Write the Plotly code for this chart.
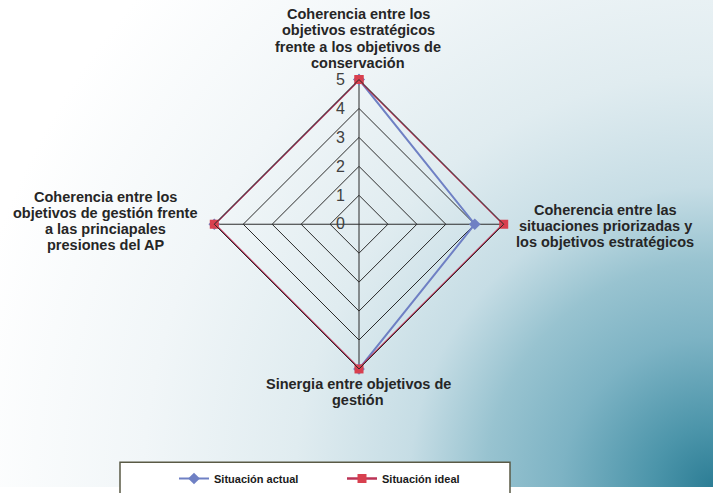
import base64
import plotly.graph_objects as go

categories = [
    "Coherencia entre los objetivos estratégicos frente a los objetivos de conservación",
    "Coherencia entre las situaciones priorizadas y los objetivos estratégicos",
    "Sinergia entre objetivos de gestión",
    "Coherencia entre los objetivos de gestión frente a las princiapales presiones del AP",
]
# wrapped lines of each category label, as printed around the chart
category_lines = [
    ["Coherencia entre los", "objetivos estratégicos", "frente a los objetivos de", "conservación"],
    ["Coherencia entre las", "situaciones priorizadas y", "los objetivos estratégicos"],
    ["Sinergia entre objetivos de", "gestión"],
    ["Coherencia entre los", "objetivos de gestión frente", "a las princiapales", "presiones del AP"],
]
actual = [5, 4, 5, 5]
ideal = [5, 5, 5, 5]
radial_ticks = [0, 1, 2, 3, 4, 5]

W, H = 713, 493


def px(x):
    return x / W


def py(y):
    return 1 - y / H


# soft teal gradient behind the chart, darkest in the bottom-right corner
bg_svg = f"""<svg xmlns='http://www.w3.org/2000/svg' width='{W}' height='{H}'>
<defs><radialGradient id='g' gradientUnits='userSpaceOnUse' cx='{W}' cy='{H}' r='760'>
<stop offset='0' stop-color='#2c7d95'/>
<stop offset='0.08' stop-color='#4c95aa'/>
<stop offset='0.2' stop-color='#7db3c4'/>
<stop offset='0.3' stop-color='#98c3d0'/>
<stop offset='0.4' stop-color='#c6dde5'/>
<stop offset='0.55' stop-color='#e0ecf0'/>
<stop offset='0.75' stop-color='#f1f6f8'/>
<stop offset='1' stop-color='#ffffff'/>
</radialGradient></defs>
<rect width='{W}' height='{H}' fill='url(#g)'/></svg>"""
bg_uri = "data:image/svg+xml;base64," + base64.b64encode(bg_svg.encode()).decode()

fig = go.Figure()

fig.add_trace(go.Scatterpolar(
    r=actual + actual[:1],
    theta=categories + categories[:1],
    mode="lines+markers",
    name="Situación actual",
    line=dict(color="#6f80c4", width=2),
    marker=dict(symbol="diamond", size=9, color="#6f80c4"),
))
fig.add_trace(go.Scatterpolar(
    r=ideal + ideal[:1],
    theta=categories + categories[:1],
    mode="lines+markers",
    name="Situación ideal",
    line=dict(color="#bb3356", width=2.5),
    marker=dict(symbol="square", size=9, color="#d8404f"),
))

# one annotation per line so the tight line spacing of the original is kept
label_font = dict(size=14.5, color="#262626",
                  family="Liberation Sans, Arial, sans-serif", weight="bold")
label_pos = [(358, 39), (605, 229), (358, 397), (105, 224)]
line_gap = 16.3
annotations = []
for lines, (x, y) in zip(category_lines, label_pos):
    n = len(lines)
    for i, t in enumerate(lines):
        ly = y + (i - (n - 1) / 2) * line_gap
        annotations.append(dict(text=t, x=px(x), y=py(ly), xref="paper", yref="paper",
                                xanchor="center", yanchor="middle",
                                showarrow=False, font=label_font))

fig.update_layout(
    width=W,
    height=H,
    margin=dict(l=0, r=0, t=0, b=0),
    paper_bgcolor="white",
    font=dict(family="Liberation Sans, Arial, sans-serif", color="#262626"),
    images=[dict(source=bg_uri, xref="paper", yref="paper", x=0, y=1,
                 sizex=1, sizey=1, xanchor="left", yanchor="top",
                 sizing="stretch", layer="below")],
    polar=dict(
        domain=dict(x=[px(212.5), px(505.5)], y=[py(373.5), py(80.5)]),
        bgcolor="rgba(0,0,0,0)",
        gridshape="linear",
        radialaxis=dict(
            range=[0, 5],
            tickvals=radial_ticks,
            angle=90,
            tickangle=90,
            side="counterclockwise",
            showline=False,
            ticks="outside",
            ticklen=8,
            tickcolor="rgba(0,0,0,0)",
            gridcolor="#2b2b2b",
            gridwidth=1,
            tickfont=dict(size=16, color="#404040",
                          family="Liberation Sans, Arial, sans-serif"),
        ),
        angularaxis=dict(
            direction="clockwise",
            rotation=90,
            showline=True,
            linecolor="#2b2b2b",
            gridcolor="#2b2b2b",
            ticks="",
            showticklabels=False,
        ),
    ),
    annotations=annotations,
    shapes=[dict(type="rect", xref="paper", yref="paper",
                 x0=px(120), x1=px(510), y0=-0.05, y1=py(468),
                 fillcolor="white", line=dict(color="#5a5a45", width=1.5),
                 layer="below")],
    legend=dict(
        orientation="h",
        x=px(174),
        xanchor="left",
        y=py(470),
        yanchor="top",
        bgcolor="rgba(0,0,0,0)",
        entrywidth=123,
        font=dict(size=11, color="#1a1a1a", weight="bold"),
    ),
)

# drop the default 8px body margin so the figure fills the window
fig.write_html("out.html", config={"displayModeBar": False},
               post_script="document.body.style.margin = '0';")
